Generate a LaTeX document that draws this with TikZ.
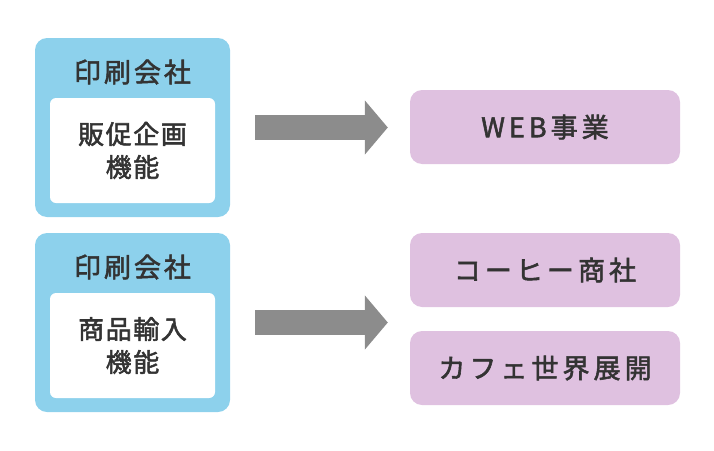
\documentclass[tikz,border=0pt]{standalone}
\usepackage{fontspec}
\setmainfont{Noto Sans CJK JP}
\newfontfamily\jptitolo{Noto Sans CJK JP}[LetterSpace=11, FakeBold=2]
\newfontfamily\jpinterno{Noto Sans CJK JP}[LetterSpace=6, FakeBold=2]
\newfontfamily\jpsettore{Noto Sans CJK JP}[LetterSpace=15, FakeBold=2]
\usetikzlibrary{arrows.meta}

% Colori
\definecolor{azzurro}{HTML}{8DD1EC}
\definecolor{lilla}{HTML}{DFC1E0}
\definecolor{grigio}{HTML}{8C8C8C}
\definecolor{testo}{HTML}{333333}

\tikzset{
    azienda/.style={fill=azzurro, rounded corners=12pt, inner sep=0pt,
                    minimum width=195pt, minimum height=179pt},
    titolo/.style={text=testo, inner sep=0pt,
                   font=\jptitolo\fontsize{27}{30}\selectfont},
    funzione/.style={fill=white, rounded corners=6pt, align=center, text=testo,
                     minimum width=165pt, minimum height=105pt,
                     font=\jpinterno\fontsize{26}{33}\selectfont},
    settore/.style={fill=lilla, rounded corners=12pt, text=testo,
                    minimum width=270pt, minimum height=74pt,
                    font=\jpsettore\fontsize{27}{30}\selectfont},
    freccia/.style={draw=grigio, line width=25pt,
                    -{Triangle[length=23pt, width=53pt]}}
}

\begin{document}
\begin{tikzpicture}[x=1pt, y=-1pt]
    \useasboundingbox (0,0) rectangle (714,450);

    % Prima azienda
    \node[azienda] (a1) at (132.5,127.5) {};
    \node[titolo] (t1) at (132.5,72) {印刷会社};
    \node[funzione] (f1) at (132.5,150.5) {販促企画\\機能};

    % Seconda azienda
    \node[azienda] (a2) at (132.5,322.5) {};
    \node[titolo] (t2) at (132.5,267) {印刷会社};
    \node[funzione] (f2) at (132.5,345.5) {商品輸入\\機能};

    % Nuovi settori
    \node[settore] (s1) at (545,127) {WEB事業};
    \node[settore] (s2) at (545,270) {コーヒー商社};
    \node[settore] (s3) at (545,368) {カフェ世界展開};

    % Frecce
    \draw[freccia, shorten <=25pt, shorten >=22pt] (a1.east) -- (a1.east -| s1.west);
    \draw[freccia, shorten <=25pt, shorten >=22pt] (a2.east) -- (a2.east -| s2.west);

\end{tikzpicture}
\end{document}
